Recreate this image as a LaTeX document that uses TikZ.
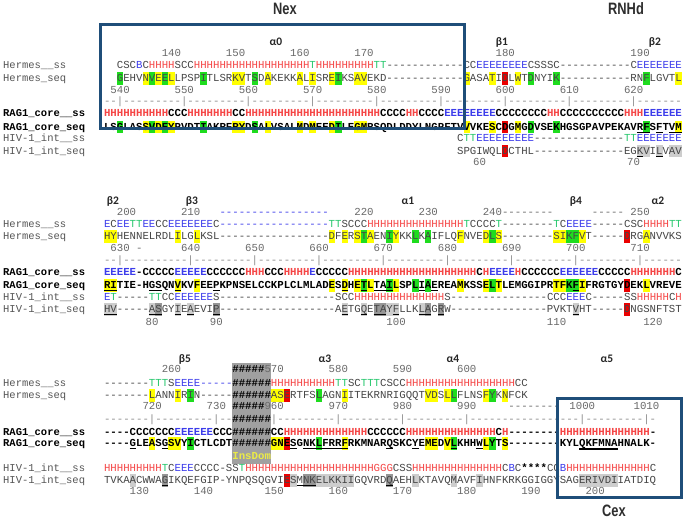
\documentclass[tikz,border=0pt]{standalone}
\usepackage{fontspec}
\usepackage{graphicx}
\setmainfont{Liberation Sans}
\newfontfamily\mono[Ligatures=TeXOff]{Liberation Mono}
\newfontfamily\lblfont{Carlito}
\newfontfamily\ttlfont{Liberation Sans}
\definecolor{seqgrey}{RGB}{70,70,70}
\definecolor{labgrey}{RGB}{85,85,85}
\definecolor{numgrey}{RGB}{105,105,105}
\definecolor{rulgrey}{RGB}{140,140,140}
\definecolor{ssH}{RGB}{245,70,70}
\definecolor{ssE}{RGB}{60,60,235}
\definecolor{ssT}{RGB}{40,200,110}
\definecolor{hly}{RGB}{255,255,0}
\definecolor{hlg}{RGB}{30,220,30}
\definecolor{hlr}{RGB}{235,0,0}
\definecolor{hll}{RGB}{205,205,205}
\definecolor{hld}{RGB}{150,150,150}
\definecolor{boxblue}{RGB}{31,78,121}
\definecolor{insgrey}{RGB}{160,160,160}
\definecolor{insyel}{RGB}{235,235,70}
\ExplSyntaxOn
\cs_new:Npn \Rp #1#2 { \prg_replicate:nn {#1} {#2} }
\cs_new:Npn \resk_sschar:n #1
  {
    \str_case:nnF {#1}
      {
        {H}{\textcolor{ssH}{H}}
        {G}{\textcolor{ssH}{G}}
        {E}{\textcolor{ssE}{E}}
        {B}{\textcolor{ssE}{B}}
        {T}{\textcolor{ssT}{T}}
        {=}{\textcolor{ssE}{-}}
        {*}{\textcolor{black}{\bfseries *}}
        {\#}{\textcolor{black}{\bfseries \#}}
      }
      {#1}
  }
\tl_new:N \l_resk_tl
\NewDocumentCommand \SSrow { m }
  { \tl_set:Nx \l_resk_tl {#1} \tl_map_function:NN \l_resk_tl \resk_sschar:n }
\ExplSyntaxOff
\newcommand\hashes{{\bfseries\color{black}\#\#\#\#\#\#}}
\newcommand\hashesv{{\bfseries\color{black}\#\#\#\#\#}}
\newcommand\HL[3]{\foreach \c in {#3}{\fill[#2] ({104+6.42*\c},{-(#1)-3}) rectangle ++(6.42,12.4);}}
\newcommand\UL[2]{\foreach \c in {#2}{\draw[ulin] ({104+6.42*\c},{-(#1)-2.2}) -- ++(6.42,0);}}
\tikzset{
  seqrow/.style={anchor=base west, inner sep=0pt, outer sep=0pt, font={\mono\fontsize{10.7}{12}\selectfont}, text=seqgrey},
  ragrow/.style={seqrow, font={\mono\bfseries\fontsize{10.7}{12}\selectfont}, text=black},
  rulrow/.style={seqrow, text=rulgrey},
  numlab/.style={anchor=base, inner sep=0pt, font={\mono\fontsize{10.7}{12}\selectfont}, text=numgrey},
  numrow/.style={seqrow, text=numgrey},
  rowname/.style={anchor=base west, inner sep=0pt, font={\mono\fontsize{10.5}{12}\selectfont}, text=labgrey},
  ragname/.style={rowname, font={\mono\bfseries\fontsize{10.5}{12}\selectfont}, text=black},
  sslab/.style={anchor=base, inner sep=0pt, font={\lblfont\bfseries\fontsize{11.5}{13}\selectfont}, text=black!85},
  ttl/.style={anchor=base, inner sep=0pt, font={\ttlfont\bfseries\fontsize{16.5}{19}\selectfont}, text=black!82},
  boxln/.style={draw=boxblue, line width=3pt},
  ulin/.style={black, line width=1.1pt},
  ulthick/.style={black, line width=1.7pt}
}
\begin{document}
\begin{tikzpicture}[x=1pt,y=1pt]
\useasboundingbox (0,0) rectangle (683,-520);
\fill[white] (0,0) rectangle (683,-520);
% insertion domain column
\fill[insgrey] ({104+6.42*20},-363) rectangle ({104+6.42*26},-464);
% ---------------- highlights block 1
\HL{81.5}{hlg}{2,7,9,15,23,36,66,70,84}
\HL{81.5}{hly}{6,8,10,20,21,25,30,32,35,39,40,56,60,64,89}
\HL{81.5}{hlr}{62}
\HL{130}{hlg}{2,7,9,15,23,36,66,70,84}
\HL{130}{hly}{6,8,10,20,21,25,30,32,35,39,40,56,60,64,89}
\HL{130}{hlr}{62}
\HL{154.3}{hll}{83,84,86,88,89}
\HL{154.3}{hlr}{62}
\UL{130}{83,84,86,88,89}
\UL{154.3}{83,86}
% ---------------- highlights block 2
\HL{239.5}{hly}{0,1,11,14,35,37,39,41,45,55,59,61,70,71,74,84}
\HL{239.5}{hlg}{40,44,48,50,60,72,73}
\HL{239.5}{hlr}{81}
\HL{288.5}{hly}{0,1,11,14,35,37,39,41,45,55,59,61,70,71,74,84}
\HL{288.5}{hlg}{40,44,48,50,60,72,73}
\HL{288.5}{hlr}{81}
\HL{312.5}{hll}{0,1,7,11,13,37,40,44,45,49,73}
\HL{312.5}{hld}{8,17,42,43,50,52}
\HL{312.5}{hlr}{81}
\UL{288.5}{0,1,7,8,11,17,37,40,42,43,44,49,51,73}
\UL{312.5}{0,1,7,8,11,13,17,37,40,42,43,45,49,50,52,73}
% ---------------- highlights block 3
\HL{398.5}{hly}{7,11,26,27,37,50,51,53,59,62}
\HL{398.5}{hlg}{13,33,54,60}
\HL{398.5}{hlr}{28}
\HL{446.5}{hly}{7,10,11,26,27,37,50,51,53,59,62}
\HL{446.5}{hlg}{13,33,54,60}
\HL{446.5}{hlr}{28}
\HL{483.5}{hll}{4,29,33,34,35,36,37,38,48,54,58,74,75,76,77,78,79}
\HL{483.5}{hld}{9,31,32,44}
\HL{483.5}{hlr}{28}
\UL{446.5}{4,9,29,31,32,33,34,35,36,37,44,48,54,58}
\draw[ulthick] ({104+6.42*74},-448.8) -- ({104+6.42*80},-448.8);
\UL{483.5}{9,30,31,32,44}
% ---------------- titles
\node[ttl] (nex) at (285,-14) {\scalebox{0.78}[1]{Nex}};
\node[ttl] (rnhd) at (626,-14) {\scalebox{0.78}[1]{RNHd}};
\node[ttl] (cex) at (614,-516.5) {\scalebox{0.78}[1]{Cex}};
% ---------------- secondary structure labels
\node[sslab] (a0) at (276,-45) {α0};
\node[sslab] (b1) at (502,-45) {β1};
\node[sslab] (b2a) at (655,-45) {β2};
\node[sslab] (b2b) at (113,-204) {β2};
\node[sslab] (b3) at (192,-204) {β3};
\node[sslab] (a1) at (408,-204) {α1};
\node[sslab] (b4) at (576,-204) {β4};
\node[sslab] (a2) at (658,-204) {α2};
\node[sslab] (b5) at (185,-362) {β5};
\node[sslab] (a3) at (325,-362) {α3};
\node[sslab] (a4) at (453,-362) {α4};
\node[sslab] (a5) at (607,-362) {α5};
% ---------------- row names
\foreach \b/\k in {68.7/1,227.5/2,386.5/3}{\node[rowname] (nhss\k) at (3,-\b) {Hermes\_\_ss};}
\foreach \b/\k in {81.5/1,239.5/2,398.5/3}{\node[rowname] (nhseq\k) at (3,-\b) {Hermes\_seq};}
\foreach \b/\k in {116.7/1,275.5/2,435.5/3}{\node[ragname] (nrss\k) at (3,-\b) {RAG1\_core\_\_ss};}
\foreach \b/\k in {130/1,288.5/2,446.5/3}{\node[ragname] (nrseq\k) at (3,-\b) {RAG1\_core\_seq};}
\foreach \b/\k in {141.8/1,300.5/2,471.5/3}{\node[rowname] (niss\k) at (3,-\b) {HIV-1\_int\_\_ss};}
\foreach \b/\k in {154.3/1,312.5/2,483.5/3}{\node[rowname] (niseq\k) at (3,-\b) {HIV-1\_int\_seq};}
% ================= BLOCK 1
\foreach \c/\t in {10/140,20/150,30/160,40/170,62/180,83/190}{\node[numlab] (hn1-\c) at ({104+6.42*(\c+0.5)},-56.5) {\t};}
\node[seqrow] (h1ss) at ({104+6.42*2},-68.7) {\SSrow{CSCBCHHHHSCC\Rp{18}{H}T\Rp{9}{H}TT\Rp{12}{-}CC\Rp{8}{E}CSSSC\Rp{11}{-}C\Rp{7}{E}}};
\node[seqrow] (h1seq) at ({104+6.42*2},-81.5) {GEHVNVEELLPSPITLSRKVTSDAKEKKALISREIKSAVEKD\Rp{12}{-}GASATIDLWTDNYIK\Rp{11}{-}RNFLGVTL};
\foreach \c/\t in {2/540,12/550,22/560,32/570,42/580,52/590,62/600,72/610,82/620}{\node[numlab] (rn1-\c) at ({104+6.42*(\c+0.5)},-93.5) {\t};}
\node[rulrow] (ru1) at (104,-104.7) {--|\Rp{8}{---------|}-------};
\node[ragrow] (r1ss) at (104,-116.7) {\SSrow{\Rp{10}{H}CCC\Rp{7}{H}CC\Rp{21}{H}CCCCHHCCCC\Rp{8}{E}\Rp{8}{C}HH\Rp{10}{C}HHH\Rp{6}{E}}};
\node[ragrow] (r1seq) at (104,-130) {LSGLASSVDEYPVDTIAKRFRYDSALVSALMDMEEDILEGMRSQDLDDYLNGPFTVVVKESCDGMGDVSEKHGSGPAVPEKAVRFSFTVM};
\node[seqrow] (i1ss) at ({104+6.42*55},-141.8) {\SSrow{CTT\Rp{9}{E}\Rp{14}{-}TT\Rp{7}{E}}};
\node[seqrow] (i1seq) at ({104+6.42*55},-154.3) {SPGIWQLDCTHL\Rp{14}{-}EGKVILVAV};
\foreach \c/\t in {58/60,82/70}{\node[numlab] (in1-\c) at ({104+6.42*(\c+0.5)},-165.8) {\t};}
% ================= BLOCK 2
\foreach \c/\t in {3/200,13/210,40/220,50/230,60/240,83/250}{\node[numlab] (hn2-\c) at ({104+6.42*(\c+0.5)},-215.5) {\t};}
\node[numrow, text=ssE] (hd2a) at ({104+6.42*18},-215.5) {\Rp{17}{-}};
\node[numrow] (hd2b) at ({104+6.42*62},-215.5) {\Rp{8}{-}};
\node[numrow] (hd2c) at ({104+6.42*76},-215.5) {\Rp{5}{-}};
\node[seqrow] (h2ss) at (104,-227.5) {\SSrow{ECEETTEECCEEEEEEEC\Rp{17}{=}TTSCCC\Rp{15}{H}TCCCCT\Rp{8}{-}TCEEEE\Rp{5}{-}CSCHHHHTT}};
\node[seqrow] (h2seq) at (104,-239.5) {HYHENNELRDLILGLKSL\Rp{17}{-}DFERSTAENIYKKLKAIFLQFNVEDLS\Rp{8}{-}SIKFVT\Rp{5}{-}DRGANVVKS};
\foreach \c/\t in {2/630,13/640,23/650,33/660,43/670,53/680,63/690,73/700,83/710}{\node[numlab] (rn2-\c) at ({104+6.42*(\c+0.5)},-251.5) {\t};}
\node[numrow] (rd2) at ({104+6.42*5},-251.5) {-};
\node[rulrow] (ru2) at (104,-263.5) {--|----------|\Rp{7}{---------|}------};
\node[ragrow] (r2ss) at (104,-275.5) {\SSrow{EEEEE-CCCCCEEEEECCCCCCHHHCCCHHHHECCCCC\Rp{20}{H}CHEEEEHCCCCCCEEEEEECCCCCHHHHHHHC}};
\node[ragrow] (r2seq) at (104,-288.5) {RITIE-HGSQNVKVFEEPKPNSELCCKPLCLMLADESDHETLTAILSPLIAEREAMKSSELTLEMGGIPRTFKFIFRGTGYDEKLVREVE};
\node[seqrow] (i2ss) at (104,-300.5) {\SSrow{ET\Rp{5}{-}TTCC\Rp{6}{E}S\Rp{18}{-}SCC\Rp{14}{H}S\Rp{15}{-}CCCEEEC\Rp{5}{-}SSHHHHHCH}};
\node[seqrow] (i2seq) at (104,-312.5) {HV\Rp{5}{-}ASGYIEAEVIP\Rp{18}{-}AETGQETAYFLLKLAGRW\Rp{15}{-}PVKTVHT\Rp{5}{-}DNGSNFTST};
\foreach \c/\t in {7/80,17/90,45/100,70/110,85/120}{\node[numlab] (in2-\c) at ({104+6.42*(\c+0.5)},-325.5) {\t};}
% ================= BLOCK 3
\foreach \c/\t in {10/260,26/570,36/580,46/590,56/600}{\node[numlab] (hn3-\c) at ({104+6.42*(\c+0.5)},-372.5) {\t};}
\node[numrow] (hh3) at ({104+6.42*20},-372.5) {\hashesv};
\node[seqrow] (h3ss) at (104,-386.5) {\SSrow{\Rp{7}{-}TTTSEEEE\Rp{5}{=}\#\#\#\#\#\#\Rp{10}{H}TTSCTTTCSCC\Rp{17}{H}CC}};
\node[seqrow] (h3seq) at (104,-398.5) {\Rp{7}{-}LANNIRIN\Rp{5}{-}\hashes ASERTFSLAGNIITEKRNRIGQQTVDSLLFLNSFYKNFCK};
\foreach \c/\t in {7/720,17/730,26/960,36/970,46/980,56/990,74/1000,84/1010}{\node[numlab] (rn3-\c) at ({104+6.42*(\c+0.5)},-409.5) {\t};}
\node[numrow] (rh3) at ({104+6.42*20},-409.5) {\hashesv};
\node[numrow] (rd3) at ({104+6.42*63},-409.5) {\Rp{8}{-}};
\node[rulrow] (ru3) at (104,-422.5) {-------|---------|--\hashes|---------|---------|---------|\Rp{17}{-}|---------|-};
\node[ragrow] (r3ss) at (104,-435.5) {\SSrow{\Rp{4}{-}\Rp{7}{C}\Rp{6}{E}CCC\#\#\#\#\#\#CC\Rp{13}{H}\Rp{6}{C}\Rp{14}{H}CH\Rp{8}{-}\Rp{14}{H}-}};
\node[ragrow] (r3seq) at (104,-446.5) {\Rp{4}{-}GLEASGSVYICTLCDT\hashes GNESGNKLFRRFRKMNARQSKCYEMEDVLKHHWLYTS\Rp{8}{-}KYLQKFMNAHNALK-};
\node[ragrow, text=insyel] (insdom) at ({104+6.42*20},-459.5) {InsDom};
\node[seqrow] (i3ss) at (104,-471.5) {\SSrow{\Rp{9}{H}TCEEECCCC-SST\Rp{20}{H}GGGCSS\Rp{14}{H}CBC****CCB\Rp{13}{H}C}};
\node[seqrow] (i3seq) at (104,-483.5) {TVKAACWWAGIKQEFGIP-YNPQSQGVIESMNKELKKIIGQVRDQAEHLKTAVQMAVFIHNFKRKGGIGGYSAGERIVDIIATDIQ};
\foreach \c/\t in {5/130,15/140,26/150,36/160,46/170,56/180,66/190,76/200}{\node[numlab] (in3-\c) at ({104+6.42*(\c+0.5)},-494.5) {\t};}
% ---------------- domain boxes
\draw[boxln] (100,-24) rectangle (464,-128);
\draw[boxln] (557,-398) rectangle (681,-497);
\end{tikzpicture}
\end{document}
